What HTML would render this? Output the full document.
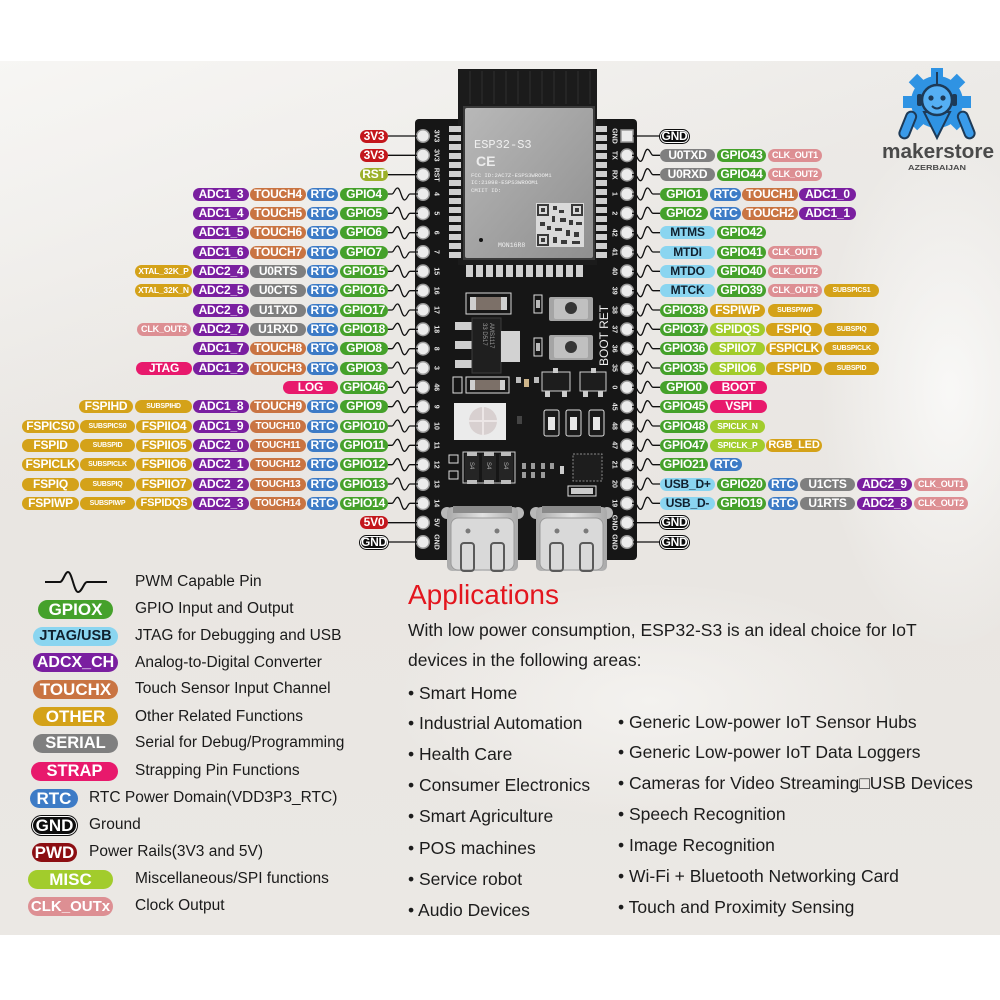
<!DOCTYPE html>
<html><head><meta charset="utf-8">
<style>
html,body{margin:0;padding:0;width:1000px;height:1000px;overflow:hidden;background:#fff}
#c{position:relative;width:1000px;height:1000px;background:#fff;overflow:hidden;font-family:"Liberation Sans",Arial,sans-serif}
.bg{position:absolute;left:0;top:61px;width:1000px;height:874px;background:
radial-gradient(ellipse 130px 260px at 950px 330px,rgba(251,251,250,.85),rgba(251,251,250,0)),
linear-gradient(160deg,rgba(248,247,245,.9) 0%,rgba(248,247,245,0) 32%),
radial-gradient(ellipse 260px 120px at 650px 640px,rgba(250,249,247,.6),rgba(250,249,247,0)),
linear-gradient(#eceae7,#e9e6e2 55%,#ebe8e4)}
.rw{position:absolute;left:0;width:1000px;height:13px}
.rw b{position:absolute;top:0;height:13px;line-height:13px;border-radius:7px;color:#fff;font-weight:bold;font-size:12px;text-align:center;white-space:nowrap;overflow:hidden;letter-spacing:-0.2px}
.g{background:#45a12b}.r{background:#3d7bc6}.t{background:#c97442}.a{background:#7a1fa0}.s{background:#7f7f7f}
.o{background:#d4a219}.c{background:#dd8f93}.st{background:#e8196c}.m{background:#a2cc2c}
.j{background:#8ad5f0;color:#10202e!important}.pw{background:#c3161c}.rs{background:#9bb02a}.k{background:#0d0d0d;box-shadow:inset 0 0 0 1px #fff,0 0 0 1px #0d0d0d}
.f7{font-size:7px!important}.f8{font-size:8.5px!important}.f9{font-size:9px!important}.f10{font-size:10px!important}.f11{font-size:11px!important}
.L{position:absolute;height:19px;line-height:19px;border-radius:9.5px;font-weight:bold;color:#fff;text-align:center;font-size:16.5px;white-space:nowrap;overflow:hidden}
.lt{position:absolute;font-size:15.5px;line-height:18px;color:#1a1a1a;white-space:nowrap}
.ap{position:absolute;font-size:17.5px;line-height:20px;color:#1c1c1c;white-space:nowrap}
</style></head><body>
<div id="c">
<div class="bg"></div>

<svg width="1000" height="1000" viewBox="0 0 1000 1000" style="position:absolute;left:0;top:0" xmlns="http://www.w3.org/2000/svg">
<defs>
<linearGradient id="sh" x1="0" y1="0" x2="1" y2="1"><stop offset="0" stop-color="#b8b8b8"/><stop offset="1" stop-color="#8f8f8f"/></linearGradient>
<linearGradient id="us" x1="0" y1="0" x2="1" y2="0"><stop offset="0" stop-color="#a9a9a9"/><stop offset=".5" stop-color="#e2e2e2"/><stop offset="1" stop-color="#a9a9a9"/></linearGradient>
<path id="wl" d="M388,0H392C394,0 395,-6 397.5,-6C400.5,-6 401.5,6 404.5,6C407,6 408,0 410,0H418" fill="none" stroke="#111" stroke-width="1.3"/>
<path id="wr" d="M632,0H635C637,0 638,6 640.5,6C643.5,6 644.5,-6 647.5,-6C650,-6 651,0 653,0H660" fill="none" stroke="#111" stroke-width="1.3"/>
</defs>

<!-- PCB -->
<rect x="415" y="119" width="222" height="441" rx="4" fill="#161616"/>
<!-- module + antenna -->
<rect x="458" y="69" width="139" height="196" fill="#1b1b1b"/>
<g stroke="#2f2f2f" stroke-width="1">
<line x1="470" y1="71" x2="470" y2="104"/><line x1="482" y1="71" x2="482" y2="104"/><line x1="494" y1="71" x2="494" y2="104"/><line x1="506" y1="71" x2="506" y2="104"/><line x1="518" y1="71" x2="518" y2="104"/><line x1="530" y1="71" x2="530" y2="104"/><line x1="542" y1="71" x2="542" y2="104"/><line x1="554" y1="71" x2="554" y2="104"/><line x1="566" y1="71" x2="566" y2="104"/><line x1="578" y1="71" x2="578" y2="104"/><line x1="590" y1="71" x2="590" y2="104"/>
</g>
<rect x="463" y="106" width="132" height="154" fill="#3a3a3a"/>
<rect x="465" y="108" width="128" height="150" rx="2" fill="url(#sh)"/>
<text x="474" y="148" font-family="Liberation Mono,monospace" font-size="12" fill="#f0f0f0">ESP32-S3</text>
<text x="476" y="166" font-family="Liberation Sans,sans-serif" font-size="14" font-weight="bold" fill="#ececec">CE</text>
<g font-family="Liberation Mono,monospace" font-size="5.6" fill="#f0f0f0">
<text x="471" y="177">FCC ID:2AC7Z-ESPS3WROOM1</text>
<text x="471" y="184">IC:21098-ESPS3WROOM1</text>
<text x="471" y="192">CMIIT ID:</text>
<text x="498" y="247" font-size="6.5">MON16R8</text>
</g>
<circle cx="481" cy="240" r="2" fill="#111"/>
<!-- QR -->
<rect x="536" y="203" width="48" height="44" fill="#dadada"/>
<g fill="#3a3a3a">
<rect x="537" y="204" width="12" height="12"/><rect x="571" y="204" width="12" height="12"/><rect x="537" y="234" width="12" height="12"/>
<rect x="553" y="206" width="4" height="4"/><rect x="559" y="210" width="5" height="3"/><rect x="552" y="216" width="3" height="6"/><rect x="560" y="218" width="6" height="4"/>
<rect x="569" y="220" width="4" height="5"/><rect x="576" y="222" width="6" height="3"/><rect x="540" y="222" width="5" height="4"/><rect x="547" y="226" width="4" height="4"/>
<rect x="555" y="228" width="7" height="3"/><rect x="566" y="230" width="4" height="6"/><rect x="574" y="232" width="5" height="5"/><rect x="553" y="237" width="4" height="6"/>
<rect x="561" y="240" width="6" height="4"/><rect x="572" y="241" width="8" height="3"/>
</g>
<g fill="#dadada"><rect x="539" y="206" width="8" height="8"/><rect x="573" y="206" width="8" height="8"/><rect x="539" y="236" width="8" height="8"/></g>
<g fill="#3a3a3a"><rect x="541" y="208" width="4" height="4"/><rect x="575" y="208" width="4" height="4"/><rect x="541" y="238" width="4" height="4"/></g>

<!-- castellated pads -->
<g fill="#cfcfcf">
<rect x="449" y="126" width="12" height="6"/><rect x="449" y="135" width="12" height="6"/><rect x="449" y="144" width="12" height="6"/><rect x="449" y="153" width="12" height="6"/><rect x="449" y="162" width="12" height="6"/><rect x="449" y="171" width="12" height="6"/><rect x="449" y="180" width="12" height="6"/><rect x="449" y="189" width="12" height="6"/><rect x="449" y="198" width="12" height="6"/><rect x="449" y="207" width="12" height="6"/><rect x="449" y="216" width="12" height="6"/><rect x="449" y="225" width="12" height="6"/><rect x="449" y="234" width="12" height="6"/><rect x="449" y="243" width="12" height="6"/><rect x="449" y="252" width="12" height="6"/>
<rect x="596" y="126" width="11" height="6"/><rect x="596" y="135" width="11" height="6"/><rect x="596" y="144" width="11" height="6"/><rect x="596" y="153" width="11" height="6"/><rect x="596" y="162" width="11" height="6"/><rect x="596" y="171" width="11" height="6"/><rect x="596" y="180" width="11" height="6"/><rect x="596" y="189" width="11" height="6"/><rect x="596" y="198" width="11" height="6"/><rect x="596" y="207" width="11" height="6"/><rect x="596" y="216" width="11" height="6"/><rect x="596" y="225" width="11" height="6"/><rect x="596" y="234" width="11" height="6"/><rect x="596" y="243" width="11" height="6"/><rect x="596" y="252" width="11" height="6"/>
<rect x="466" y="265" width="7" height="12"/><rect x="476" y="265" width="7" height="12"/><rect x="486" y="265" width="7" height="12"/><rect x="496" y="265" width="7" height="12"/><rect x="506" y="265" width="7" height="12"/><rect x="516" y="265" width="7" height="12"/><rect x="526" y="265" width="7" height="12"/><rect x="536" y="265" width="7" height="12"/><rect x="546" y="265" width="7" height="12"/><rect x="556" y="265" width="7" height="12"/><rect x="566" y="265" width="7" height="12"/><rect x="576" y="265" width="7" height="12"/>
</g>

<!-- header holes -->
<g fill="#ececec" stroke="#9a9a9a" stroke-width="1.5">
<circle cx="423" cy="136" r="6.3"/><circle cx="423" cy="155.3" r="6.3"/><circle cx="423" cy="174.7" r="6.3"/><circle cx="423" cy="194" r="6.3"/><circle cx="423" cy="213.3" r="6.3"/><circle cx="423" cy="232.7" r="6.3"/><circle cx="423" cy="252" r="6.3"/><circle cx="423" cy="271.3" r="6.3"/><circle cx="423" cy="290.7" r="6.3"/><circle cx="423" cy="310" r="6.3"/><circle cx="423" cy="329.3" r="6.3"/><circle cx="423" cy="348.7" r="6.3"/><circle cx="423" cy="368" r="6.3"/><circle cx="423" cy="387.3" r="6.3"/><circle cx="423" cy="406.7" r="6.3"/><circle cx="423" cy="426" r="6.3"/><circle cx="423" cy="445.3" r="6.3"/><circle cx="423" cy="464.7" r="6.3"/><circle cx="423" cy="484" r="6.3"/><circle cx="423" cy="503.3" r="6.3"/><circle cx="423" cy="522.7" r="6.3"/><circle cx="423" cy="542" r="6.3"/>
<rect x="621" y="130" width="12" height="12"/><circle cx="627" cy="155.3" r="6.3"/><circle cx="627" cy="174.7" r="6.3"/><circle cx="627" cy="194" r="6.3"/><circle cx="627" cy="213.3" r="6.3"/><circle cx="627" cy="232.7" r="6.3"/><circle cx="627" cy="252" r="6.3"/><circle cx="627" cy="271.3" r="6.3"/><circle cx="627" cy="290.7" r="6.3"/><circle cx="627" cy="310" r="6.3"/><circle cx="627" cy="329.3" r="6.3"/><circle cx="627" cy="348.7" r="6.3"/><circle cx="627" cy="368" r="6.3"/><circle cx="627" cy="387.3" r="6.3"/><circle cx="627" cy="406.7" r="6.3"/><circle cx="627" cy="426" r="6.3"/><circle cx="627" cy="445.3" r="6.3"/><circle cx="627" cy="464.7" r="6.3"/><circle cx="627" cy="484" r="6.3"/><circle cx="627" cy="503.3" r="6.3"/><circle cx="627" cy="522.7" r="6.3"/><circle cx="627" cy="542" r="6.3"/>
</g>

<!-- header labels -->
<g font-family="Liberation Sans,sans-serif" font-size="7" font-weight="bold" fill="#e8e8e8" text-anchor="middle">
<text dy="2.5" transform="translate(437,136) rotate(90)">3V3</text>
<text dy="2.5" transform="translate(437,155.3) rotate(90)">3V3</text>
<text dy="2.5" transform="translate(437,174.7) rotate(90)">RST</text>
<text dy="2.5" transform="translate(437,194) rotate(90)">4</text>
<text dy="2.5" transform="translate(437,213.3) rotate(90)">5</text>
<text dy="2.5" transform="translate(437,232.7) rotate(90)">6</text>
<text dy="2.5" transform="translate(437,252) rotate(90)">7</text>
<text dy="2.5" transform="translate(437,271.3) rotate(90)">15</text>
<text dy="2.5" transform="translate(437,290.7) rotate(90)">16</text>
<text dy="2.5" transform="translate(437,310) rotate(90)">17</text>
<text dy="2.5" transform="translate(437,329.3) rotate(90)">18</text>
<text dy="2.5" transform="translate(437,348.7) rotate(90)">8</text>
<text dy="2.5" transform="translate(437,368) rotate(90)">3</text>
<text dy="2.5" transform="translate(437,387.3) rotate(90)">46</text>
<text dy="2.5" transform="translate(437,406.7) rotate(90)">9</text>
<text dy="2.5" transform="translate(437,426) rotate(90)">10</text>
<text dy="2.5" transform="translate(437,445.3) rotate(90)">11</text>
<text dy="2.5" transform="translate(437,464.7) rotate(90)">12</text>
<text dy="2.5" transform="translate(437,484) rotate(90)">13</text>
<text dy="2.5" transform="translate(437,503.3) rotate(90)">14</text>
<text dy="2.5" transform="translate(437,522.7) rotate(90)">5V</text>
<text dy="2.5" transform="translate(437,542) rotate(90)">GND</text>
<text dy="2.5" transform="translate(615,136) rotate(90)">GND</text>
<text dy="2.5" transform="translate(615,155.3) rotate(90)">TX</text>
<text dy="2.5" transform="translate(615,174.7) rotate(90)">RX</text>
<text dy="2.5" transform="translate(615,194) rotate(90)">1</text>
<text dy="2.5" transform="translate(615,213.3) rotate(90)">2</text>
<text dy="2.5" transform="translate(615,232.7) rotate(90)">42</text>
<text dy="2.5" transform="translate(615,252) rotate(90)">41</text>
<text dy="2.5" transform="translate(615,271.3) rotate(90)">40</text>
<text dy="2.5" transform="translate(615,290.7) rotate(90)">39</text>
<text dy="2.5" transform="translate(615,310) rotate(90)">38</text>
<text dy="2.5" transform="translate(615,329.3) rotate(90)">37</text>
<text dy="2.5" transform="translate(615,348.7) rotate(90)">36</text>
<text dy="2.5" transform="translate(615,368) rotate(90)">35</text>
<text dy="2.5" transform="translate(615,387.3) rotate(90)">0</text>
<text dy="2.5" transform="translate(615,406.7) rotate(90)">45</text>
<text dy="2.5" transform="translate(615,426) rotate(90)">48</text>
<text dy="2.5" transform="translate(615,445.3) rotate(90)">47</text>
<text dy="2.5" transform="translate(615,464.7) rotate(90)">21</text>
<text dy="2.5" transform="translate(615,484) rotate(90)">20</text>
<text dy="2.5" transform="translate(615,503.3) rotate(90)">19</text>
<text dy="2.5" transform="translate(615,522.7) rotate(90)">GND</text>
<text dy="2.5" transform="translate(615,542) rotate(90)">GND</text>
</g>
<text transform="translate(608,366) rotate(-90)" font-family="Liberation Sans,sans-serif" font-size="12" fill="#eeeeee">BOOT RET</text>

<!-- components -->
<rect x="466" y="293" width="45" height="21" fill="none" stroke="#d8d8d8" stroke-width="1"/>
<rect x="470" y="297" width="37" height="13" fill="#7c7068"/>
<rect x="470" y="297" width="6" height="13" fill="#cfcfcf"/><rect x="501" y="297" width="6" height="13" fill="#cfcfcf"/>
<rect x="534" y="295" width="8" height="18" fill="none" stroke="#ddd"/><rect x="536" y="300" width="4" height="8" fill="#bbb"/>
<rect x="534" y="338" width="8" height="18" fill="none" stroke="#ddd"/><rect x="536" y="343" width="4" height="8" fill="#bbb"/>
<!-- AMS1117 -->
<rect x="455" y="322" width="18" height="8" fill="#cfcfcf"/><rect x="455" y="341" width="18" height="8" fill="#cfcfcf"/><rect x="455" y="360" width="18" height="8" fill="#cfcfcf"/>
<rect x="472" y="318" width="29" height="55" fill="#1f1f1f" stroke="#3c3c3c"/>
<rect x="501" y="331" width="19" height="31" fill="#d2d2d2"/>
<text transform="translate(490,323) rotate(90)" font-family="Liberation Sans,sans-serif" font-size="6" fill="#9a9a9a">AMS1117</text>
<text transform="translate(483,323) rotate(90)" font-family="Liberation Sans,sans-serif" font-size="6" fill="#9a9a9a">33 D517</text>
<rect x="453" y="377" width="9" height="16" fill="none" stroke="#ddd"/>
<rect x="466" y="377" width="43" height="16" fill="none" stroke="#ddd"/>
<rect x="470" y="380" width="35" height="10" fill="#7c7068"/><rect x="470" y="380" width="5" height="10" fill="#cfcfcf"/><rect x="500" y="380" width="5" height="10" fill="#cfcfcf"/>
<rect x="516" y="377" width="5" height="6" fill="#bbb"/><rect x="524" y="379" width="5" height="8" fill="#cdb58a"/><rect x="534" y="377" width="5" height="6" fill="#bbb"/>
<!-- buttons -->
<rect x="549" y="297" width="44" height="24" rx="2" fill="#a5a5a5"/><rect x="554" y="299" width="34" height="20" rx="2" fill="#c0c0c0"/><circle cx="571" cy="308" r="6" fill="#353535"/>
<rect x="549" y="335" width="44" height="25" rx="2" fill="#a5a5a5"/><rect x="554" y="337" width="34" height="21" rx="2" fill="#c0c0c0"/><circle cx="571" cy="347" r="6" fill="#353535"/>
<!-- Y1 -->
<rect x="542" y="372" width="28" height="19" fill="#1d1d1d" stroke="#cfcfcf"/><rect x="553" y="368" width="5" height="5" fill="#ccc"/><rect x="545" y="391" width="5" height="6" fill="#ccc"/><rect x="562" y="391" width="5" height="6" fill="#ccc"/>
<rect x="580" y="372" width="26" height="19" fill="#1d1d1d" stroke="#cfcfcf"/><rect x="591" y="368" width="5" height="5" fill="#ccc"/><rect x="583" y="391" width="5" height="6" fill="#ccc"/><rect x="598" y="391" width="5" height="6" fill="#ccc"/>
<!-- RGB LED -->
<rect x="454" y="403" width="52" height="37" fill="#ebebeb"/>
<circle cx="483" cy="421" r="14" fill="#d8d0d0"/>
<path d="M483,407V435M469,421H497" stroke="#ece6e6" stroke-width="2"/>
<rect x="517" y="416" width="5" height="8" fill="#444"/>
<!-- small LEDs -->
<rect x="544" y="410" width="15" height="26" rx="2" fill="#1a1a1a" stroke="#ddd"/><rect x="548" y="417" width="7" height="13" fill="#e6e6e6"/>
<rect x="566" y="410" width="15" height="26" rx="2" fill="#1a1a1a" stroke="#ddd"/><rect x="570" y="417" width="7" height="13" fill="#e6e6e6"/>
<rect x="589" y="410" width="15" height="26" rx="2" fill="#1a1a1a" stroke="#ddd"/><rect x="593" y="417" width="7" height="13" fill="#e6e6e6"/>
<!-- diodes -->
<rect x="449" y="455" width="9" height="8" fill="none" stroke="#ddd"/><rect x="449" y="471" width="9" height="8" fill="none" stroke="#ddd"/>
<rect x="463" y="452" width="52" height="31" fill="none" stroke="#cfcfcf"/>
<rect x="465" y="454" width="14" height="28" fill="#252525"/><rect x="482" y="454" width="14" height="28" fill="#252525"/><rect x="499" y="454" width="14" height="28" fill="#252525"/>
<g fill="#bdbdbd"><rect x="467" y="452" width="10" height="4"/><rect x="484" y="452" width="10" height="4"/><rect x="501" y="452" width="10" height="4"/><rect x="467" y="480" width="10" height="4"/><rect x="484" y="480" width="10" height="4"/><rect x="501" y="480" width="10" height="4"/></g>
<g font-family="Liberation Sans,sans-serif" font-size="6" fill="#aaa"><text transform="translate(470,462) rotate(90)">S4</text><text transform="translate(487,462) rotate(90)">S4</text><text transform="translate(504,462) rotate(90)">S4</text></g>
<g fill="#9a9a9a"><rect x="522" y="463" width="4" height="6"/><rect x="531" y="463" width="4" height="6"/><rect x="541" y="463" width="4" height="6"/><rect x="550" y="463" width="4" height="6"/><rect x="522" y="472" width="4" height="6"/><rect x="531" y="472" width="4" height="6"/><rect x="541" y="472" width="4" height="6"/><rect x="560" y="466" width="4" height="8" fill="#ccc"/></g>
<!-- QFN -->
<rect x="573" y="454" width="29" height="27" fill="#1d1d1d" stroke="#8a8a8a" stroke-dasharray="2,1.5"/>
<rect x="568" y="486" width="28" height="10" fill="none" stroke="#ddd"/><rect x="571" y="488" width="22" height="6" fill="#ccc"/>
<!-- USB-C left -->
<circle cx="447" cy="513" r="6" fill="#b8b8b8"/><circle cx="518" cy="513" r="6" fill="#b8b8b8"/>
<rect x="447" y="507" width="71" height="64" rx="5" fill="url(#us)"/>
<rect x="453" y="506" width="59" height="7" fill="#8a8a8a"/>
<rect x="451" y="518" width="63" height="52" rx="7" fill="#d9d9d9" stroke="#9a9a9a"/>
<circle cx="468" cy="531" r="2.5" fill="#7a7a7a"/><circle cx="497" cy="531" r="2.5" fill="#7a7a7a"/>
<rect x="461" y="543" width="13" height="28" rx="3" fill="none" stroke="#5a5a5a" stroke-width="2"/>
<rect x="491" y="543" width="13" height="28" rx="3" fill="none" stroke="#5a5a5a" stroke-width="2"/>
<!-- USB-C right -->
<circle cx="536" cy="513" r="6" fill="#b8b8b8"/><circle cx="607" cy="513" r="6" fill="#b8b8b8"/>
<rect x="536" y="507" width="71" height="64" rx="5" fill="url(#us)"/>
<rect x="542" y="506" width="59" height="7" fill="#8a8a8a"/>
<rect x="540" y="518" width="63" height="52" rx="7" fill="#d9d9d9" stroke="#9a9a9a"/>
<circle cx="557" cy="531" r="2.5" fill="#7a7a7a"/><circle cx="586" cy="531" r="2.5" fill="#7a7a7a"/>
<rect x="550" y="543" width="13" height="28" rx="3" fill="none" stroke="#5a5a5a" stroke-width="2"/>
<rect x="580" y="543" width="13" height="28" rx="3" fill="none" stroke="#5a5a5a" stroke-width="2"/>

<!-- connector lines -->
<g stroke="#111" stroke-width="1.3">
<line x1="388" y1="136" x2="417" y2="136"/><line x1="388" y1="155.3" x2="417" y2="155.3"/><line x1="388" y1="174.7" x2="417" y2="174.7"/><line x1="388" y1="522.7" x2="417" y2="522.7"/><line x1="388" y1="542" x2="417" y2="542"/>
<line x1="633" y1="136" x2="660" y2="136"/><line x1="633" y1="522.7" x2="660" y2="522.7"/><line x1="633" y1="542" x2="660" y2="542"/>
</g>
<use href="#wl" y="194"/><use href="#wl" y="213.3"/><use href="#wl" y="232.7"/><use href="#wl" y="252"/><use href="#wl" y="271.3"/><use href="#wl" y="290.7"/><use href="#wl" y="310"/><use href="#wl" y="329.3"/><use href="#wl" y="348.7"/><use href="#wl" y="368"/><use href="#wl" y="387.3"/><use href="#wl" y="406.7"/><use href="#wl" y="426"/><use href="#wl" y="445.3"/><use href="#wl" y="464.7"/><use href="#wl" y="484"/><use href="#wl" y="503.3"/>
<use href="#wr" y="155.3"/><use href="#wr" y="174.7"/><use href="#wr" y="194"/><use href="#wr" y="213.3"/><use href="#wr" y="232.7"/><use href="#wr" y="252"/><use href="#wr" y="271.3"/><use href="#wr" y="290.7"/><use href="#wr" y="310"/><use href="#wr" y="329.3"/><use href="#wr" y="348.7"/><use href="#wr" y="368"/><use href="#wr" y="387.3"/><use href="#wr" y="406.7"/><use href="#wr" y="426"/><use href="#wr" y="445.3"/><use href="#wr" y="464.7"/><use href="#wr" y="484"/><use href="#wr" y="503.3"/>

<!-- legend PWM symbol -->
<path d="M45,582H60C63,582 65,572 68,572C72,572 74,592 78,592C82,592 84,582 87,582H107" fill="none" stroke="#111" stroke-width="2"/>

<!-- logo -->
<g transform="translate(937,102)">
<circle r="26" fill="#2f93e3"/>
<g fill="#2f93e3">
<rect x="-6" y="-34" width="12" height="11"/><rect x="-6" y="-34" width="12" height="11" transform="rotate(45)"/><rect x="-6" y="-34" width="12" height="11" transform="rotate(90)"/><rect x="-6" y="-34" width="12" height="11" transform="rotate(135)"/><rect x="-6" y="-34" width="12" height="11" transform="rotate(-45)"/><rect x="-6" y="-34" width="12" height="11" transform="rotate(-90)"/><rect x="-6" y="-34" width="12" height="11" transform="rotate(-135)"/>
</g>
<path d="M-13,10 L13,10 L0,36 Z" fill="#2f93e3" stroke="#1d3a57" stroke-width="2"/>
<rect x="-5" y="0" width="10" height="28" rx="5" fill="#3a9bea" stroke="#1d3a57" stroke-width="2" transform="translate(-24,10) rotate(22)"/>
<rect x="-5" y="0" width="10" height="28" rx="5" fill="#3a9bea" stroke="#1d3a57" stroke-width="2" transform="translate(24,10) rotate(-22)"/>
<line x1="0" y1="-17" x2="0" y2="-30" stroke="#1d3a57" stroke-width="2"/>
<circle cy="-2" r="15" fill="#55aff3" stroke="#1d3a57" stroke-width="2.5"/>
<rect x="-20" y="-8" width="5" height="12" rx="2" fill="#1d3a57"/><rect x="15" y="-8" width="5" height="12" rx="2" fill="#1d3a57"/>
<circle cx="-6" cy="-4" r="2.6" fill="#1d3a57"/><circle cx="6" cy="-4" r="2.6" fill="#1d3a57"/>
<path d="M-5,4 Q0,9 5,4" stroke="#1d3a57" fill="none" stroke-width="2"/>
</g>
<text x="882" y="158" font-family="Liberation Sans,sans-serif" font-size="20" font-weight="bold" fill="#4a4a4a" textLength="112" lengthAdjust="spacingAndGlyphs">makerstore</text>
<text x="908" y="170" font-family="Liberation Sans,sans-serif" font-size="7.5" font-weight="bold" fill="#4a4a4a" textLength="58" lengthAdjust="spacingAndGlyphs">AZERBAIJAN</text>
</svg>

<!-- LEFT PIN LABELS -->
<div class="rw" style="top:129.5px"><b class="pw" style="left:360px;width:28px">3V3</b></div>
<div class="rw" style="top:148.8px"><b class="pw" style="left:360px;width:28px">3V3</b></div>
<div class="rw" style="top:168.2px"><b class="rs" style="left:360px;width:28px">RST</b></div>
<div class="rw" style="top:187.5px"><b class="a" style="left:193px;width:56px">ADC1_3</b><b class="t" style="left:250px;width:56px">TOUCH4</b><b class="r" style="left:307px;width:31px">RTC</b><b class="g" style="left:340px;width:48px">GPIO4</b></div>
<div class="rw" style="top:206.8px"><b class="a" style="left:193px;width:56px">ADC1_4</b><b class="t" style="left:250px;width:56px">TOUCH5</b><b class="r" style="left:307px;width:31px">RTC</b><b class="g" style="left:340px;width:48px">GPIO5</b></div>
<div class="rw" style="top:226.2px"><b class="a" style="left:193px;width:56px">ADC1_5</b><b class="t" style="left:250px;width:56px">TOUCH6</b><b class="r" style="left:307px;width:31px">RTC</b><b class="g" style="left:340px;width:48px">GPIO6</b></div>
<div class="rw" style="top:245.5px"><b class="a" style="left:193px;width:56px">ADC1_6</b><b class="t" style="left:250px;width:56px">TOUCH7</b><b class="r" style="left:307px;width:31px">RTC</b><b class="g" style="left:340px;width:48px">GPIO7</b></div>
<div class="rw" style="top:264.8px"><b class="o f8" style="left:135px;width:57px">XTAL_32K_P</b><b class="a" style="left:193px;width:56px">ADC2_4</b><b class="s" style="left:250px;width:56px">U0RTS</b><b class="r" style="left:307px;width:31px">RTC</b><b class="g" style="left:340px;width:48px">GPIO15</b></div>
<div class="rw" style="top:284.2px"><b class="o f8" style="left:135px;width:57px">XTAL_32K_N</b><b class="a" style="left:193px;width:56px">ADC2_5</b><b class="s" style="left:250px;width:56px">U0CTS</b><b class="r" style="left:307px;width:31px">RTC</b><b class="g" style="left:340px;width:48px">GPIO16</b></div>
<div class="rw" style="top:303.5px"><b class="a" style="left:193px;width:56px">ADC2_6</b><b class="s" style="left:250px;width:56px">U1TXD</b><b class="r" style="left:307px;width:31px">RTC</b><b class="g" style="left:340px;width:48px">GPIO17</b></div>
<div class="rw" style="top:322.8px"><b class="c f9" style="left:137px;width:54px">CLK_OUT3</b><b class="a" style="left:193px;width:56px">ADC2_7</b><b class="s" style="left:250px;width:56px">U1RXD</b><b class="r" style="left:307px;width:31px">RTC</b><b class="g" style="left:340px;width:48px">GPIO18</b></div>
<div class="rw" style="top:342.2px"><b class="a" style="left:193px;width:56px">ADC1_7</b><b class="t" style="left:250px;width:56px">TOUCH8</b><b class="r" style="left:307px;width:31px">RTC</b><b class="g" style="left:340px;width:48px">GPIO8</b></div>
<div class="rw" style="top:361.5px"><b class="st" style="left:136px;width:56px">JTAG</b><b class="a" style="left:193px;width:56px">ADC1_2</b><b class="t" style="left:250px;width:56px">TOUCH3</b><b class="r" style="left:307px;width:31px">RTC</b><b class="g" style="left:340px;width:48px">GPIO3</b></div>
<div class="rw" style="top:380.8px"><b class="st" style="left:283px;width:55px">LOG</b><b class="g" style="left:340px;width:48px">GPIO46</b></div>
<div class="rw" style="top:400.2px"><b class="o" style="left:79px;width:54px">FSPIHD</b><b class="o f7" style="left:135px;width:57px">SUBSPIHD</b><b class="a" style="left:193px;width:56px">ADC1_8</b><b class="t" style="left:250px;width:56px">TOUCH9</b><b class="r" style="left:307px;width:31px">RTC</b><b class="g" style="left:340px;width:48px">GPIO9</b></div>
<div class="rw" style="top:419.5px"><b class="o" style="left:22px;width:57px">FSPICS0</b><b class="o f7" style="left:80px;width:55px">SUBSPICS0</b><b class="o" style="left:136px;width:56px">FSPIIO4</b><b class="a" style="left:193px;width:56px">ADC1_9</b><b class="t f10" style="left:250px;width:56px">TOUCH10</b><b class="r" style="left:307px;width:31px">RTC</b><b class="g" style="left:340px;width:48px">GPIO10</b></div>
<div class="rw" style="top:438.8px"><b class="o" style="left:22px;width:57px">FSPID</b><b class="o f7" style="left:80px;width:55px">SUBSPID</b><b class="o" style="left:136px;width:56px">FSPIIO5</b><b class="a" style="left:193px;width:56px">ADC2_0</b><b class="t f10" style="left:250px;width:56px">TOUCH11</b><b class="r" style="left:307px;width:31px">RTC</b><b class="g" style="left:340px;width:48px">GPIO11</b></div>
<div class="rw" style="top:458.2px"><b class="o" style="left:22px;width:57px">FSPICLK</b><b class="o f7" style="left:80px;width:55px">SUBSPICLK</b><b class="o" style="left:136px;width:56px">FSPIIO6</b><b class="a" style="left:193px;width:56px">ADC2_1</b><b class="t f10" style="left:250px;width:56px">TOUCH12</b><b class="r" style="left:307px;width:31px">RTC</b><b class="g" style="left:340px;width:48px">GPIO12</b></div>
<div class="rw" style="top:477.5px"><b class="o" style="left:22px;width:57px">FSPIQ</b><b class="o f7" style="left:80px;width:55px">SUBSPIQ</b><b class="o" style="left:136px;width:56px">FSPIIO7</b><b class="a" style="left:193px;width:56px">ADC2_2</b><b class="t f10" style="left:250px;width:56px">TOUCH13</b><b class="r" style="left:307px;width:31px">RTC</b><b class="g" style="left:340px;width:48px">GPIO13</b></div>
<div class="rw" style="top:496.8px"><b class="o" style="left:22px;width:57px">FSPIWP</b><b class="o f7" style="left:80px;width:55px">SUBSPIWP</b><b class="o f11" style="left:136px;width:56px">FSPIDQS</b><b class="a" style="left:193px;width:56px">ADC2_3</b><b class="t f10" style="left:250px;width:56px">TOUCH14</b><b class="r" style="left:307px;width:31px">RTC</b><b class="g" style="left:340px;width:48px">GPIO14</b></div>
<div class="rw" style="top:516.2px"><b class="pw" style="left:360px;width:28px">5V0</b></div>
<div class="rw" style="top:535.5px"><b class="k" style="left:360px;width:28px">GND</b></div>

<!-- RIGHT PIN LABELS -->
<div class="rw" style="top:129.5px"><b class="k" style="left:660px;width:29px">GND</b></div>
<div class="rw" style="top:148.8px"><b class="s" style="left:660px;width:55px">U0TXD</b><b class="g" style="left:717px;width:49px">GPIO43</b><b class="c f9" style="left:768px;width:54px">CLK_OUT1</b></div>
<div class="rw" style="top:168.2px"><b class="s" style="left:660px;width:55px">U0RXD</b><b class="g" style="left:717px;width:49px">GPIO44</b><b class="c f9" style="left:768px;width:54px">CLK_OUT2</b></div>
<div class="rw" style="top:187.5px"><b class="g" style="left:660px;width:48px">GPIO1</b><b class="r" style="left:710px;width:31px">RTC</b><b class="t" style="left:742px;width:56px">TOUCH1</b><b class="a" style="left:799px;width:57px">ADC1_0</b></div>
<div class="rw" style="top:206.8px"><b class="g" style="left:660px;width:48px">GPIO2</b><b class="r" style="left:710px;width:31px">RTC</b><b class="t" style="left:742px;width:56px">TOUCH2</b><b class="a" style="left:799px;width:57px">ADC1_1</b></div>
<div class="rw" style="top:226.2px"><b class="j" style="left:660px;width:55px">MTMS</b><b class="g" style="left:717px;width:49px">GPIO42</b></div>
<div class="rw" style="top:245.5px"><b class="j" style="left:660px;width:55px">MTDI</b><b class="g" style="left:717px;width:49px">GPIO41</b><b class="c f9" style="left:768px;width:54px">CLK_OUT1</b></div>
<div class="rw" style="top:264.8px"><b class="j" style="left:660px;width:55px">MTDO</b><b class="g" style="left:717px;width:49px">GPIO40</b><b class="c f9" style="left:768px;width:54px">CLK_OUT2</b></div>
<div class="rw" style="top:284.2px"><b class="j" style="left:660px;width:55px">MTCK</b><b class="g" style="left:717px;width:49px">GPIO39</b><b class="c f9" style="left:768px;width:54px">CLK_OUT3</b><b class="o f7" style="left:824px;width:55px">SUBSPICS1</b></div>
<div class="rw" style="top:303.5px"><b class="g" style="left:660px;width:48px">GPIO38</b><b class="o" style="left:710px;width:55px">FSPIWP</b><b class="o f7" style="left:768px;width:54px">SUBSPIWP</b></div>
<div class="rw" style="top:322.8px"><b class="g" style="left:660px;width:48px">GPIO37</b><b class="m" style="left:710px;width:55px">SPIDQS</b><b class="o" style="left:766px;width:56px">FSPIQ</b><b class="o f7" style="left:824px;width:55px">SUBSPIQ</b></div>
<div class="rw" style="top:342.2px"><b class="g" style="left:660px;width:48px">GPIO36</b><b class="m" style="left:710px;width:55px">SPIIO7</b><b class="o" style="left:766px;width:56px">FSPICLK</b><b class="o f7" style="left:824px;width:55px">SUBSPICLK</b></div>
<div class="rw" style="top:361.5px"><b class="g" style="left:660px;width:48px">GPIO35</b><b class="m" style="left:710px;width:55px">SPIIO6</b><b class="o" style="left:766px;width:56px">FSPID</b><b class="o f7" style="left:824px;width:55px">SUBSPID</b></div>
<div class="rw" style="top:380.8px"><b class="g" style="left:660px;width:48px">GPIO0</b><b class="st" style="left:710px;width:57px">BOOT</b></div>
<div class="rw" style="top:400.2px"><b class="g" style="left:660px;width:48px">GPIO45</b><b class="st" style="left:710px;width:57px">VSPI</b></div>
<div class="rw" style="top:419.5px"><b class="g" style="left:660px;width:48px">GPIO48</b><b class="m f8" style="left:710px;width:55px">SPICLK_N</b></div>
<div class="rw" style="top:438.8px"><b class="g" style="left:660px;width:48px">GPIO47</b><b class="m f8" style="left:710px;width:55px">SPICLK_P</b><b class="o f11" style="left:766px;width:56px">RGB_LED</b></div>
<div class="rw" style="top:458.2px"><b class="g" style="left:660px;width:48px">GPIO21</b><b class="r" style="left:710px;width:32px">RTC</b></div>
<div class="rw" style="top:477.5px"><b class="j" style="left:660px;width:55px">USB_D+</b><b class="g" style="left:717px;width:49px">GPIO20</b><b class="r" style="left:768px;width:30px">RTC</b><b class="s" style="left:800px;width:55px">U1CTS</b><b class="a" style="left:857px;width:55px">ADC2_9</b><b class="c f9" style="left:914px;width:54px">CLK_OUT1</b></div>
<div class="rw" style="top:496.8px"><b class="j" style="left:660px;width:55px">USB_D-</b><b class="g" style="left:717px;width:49px">GPIO19</b><b class="r" style="left:768px;width:30px">RTC</b><b class="s" style="left:800px;width:55px">U1RTS</b><b class="a" style="left:857px;width:55px">ADC2_8</b><b class="c f9" style="left:914px;width:54px">CLK_OUT2</b></div>
<div class="rw" style="top:516.2px"><b class="k" style="left:660px;width:29px">GND</b></div>
<div class="rw" style="top:535.5px"><b class="k" style="left:660px;width:29px">GND</b></div>

<!-- LEGEND -->
<div class="L g" style="left:38px;top:599.5px;width:75px;font-size:17px">GPIOX</div>
<div class="L j" style="left:33px;top:626.5px;width:85px;font-size:14.5px">JTAG/USB</div>
<div class="L a" style="left:33px;top:652.5px;width:85px;font-size:16px">ADCX_CH</div>
<div class="L t" style="left:33px;top:679.5px;width:85px;font-size:17px">TOUCHX</div>
<div class="L o" style="left:33px;top:706.5px;width:85px;font-size:17px">OTHER</div>
<div class="L s" style="left:33px;top:733.5px;width:85px">SERIAL</div>
<div class="L st" style="left:31px;top:761.5px;width:87px">STRAP</div>
<div class="L r" style="left:30px;top:788.5px;width:48px;font-size:17px">RTC</div>
<div class="L k" style="left:32px;top:815.5px;width:45px;font-size:17px">GND</div>
<div class="L" style="left:32px;top:842.5px;width:45px;font-size:17px;background:#8c0e12">PWD</div>
<div class="L m" style="left:28px;top:869.5px;width:85px;font-size:17px">MISC</div>
<div class="L c" style="left:28px;top:896.5px;width:85px;font-size:15px">CLK_OUTx</div>

<div class="lt" style="left:135px;top:573px">PWM Capable Pin</div>
<div class="lt" style="left:135px;top:600px">GPIO Input and Output</div>
<div class="lt" style="left:135px;top:627px">JTAG for Debugging and USB</div>
<div class="lt" style="left:135px;top:654px">Analog-to-Digital Converter</div>
<div class="lt" style="left:135px;top:680px">Touch Sensor Input Channel</div>
<div class="lt" style="left:135px;top:708px">Other Related Functions</div>
<div class="lt" style="left:135px;top:734px">Serial for Debug/Programming</div>
<div class="lt" style="left:135px;top:762px">Strapping Pin Functions</div>
<div class="lt" style="left:89px;top:789px">RTC Power Domain(VDD3P3_RTC)</div>
<div class="lt" style="left:89px;top:816px">Ground</div>
<div class="lt" style="left:89px;top:843px">Power Rails(3V3 and 5V)</div>
<div class="lt" style="left:135px;top:870px">Miscellaneous/SPI functions</div>
<div class="lt" style="left:135px;top:897px">Clock Output</div>

<!-- APPLICATIONS -->
<div class="ap" style="left:408px;top:580px;font-size:28px;line-height:30px;color:#e3161e">Applications</div>
<div class="ap" style="left:408px;top:620px">With low power consumption, ESP32-S3 is an ideal choice for IoT</div>
<div class="ap" style="left:408px;top:650px">devices in the following areas:</div>
<div class="ap" style="left:408px;top:683px">• Smart Home</div>
<div class="ap" style="left:408px;top:713px">• Industrial Automation</div>
<div class="ap" style="left:408px;top:744px">• Health Care</div>
<div class="ap" style="left:408px;top:775px">• Consumer Electronics</div>
<div class="ap" style="left:408px;top:806px">• Smart Agriculture</div>
<div class="ap" style="left:408px;top:838px">• POS machines</div>
<div class="ap" style="left:408px;top:869px">• Service robot</div>
<div class="ap" style="left:408px;top:900px">• Audio Devices</div>
<div class="ap" style="left:618px;top:712px">• Generic Low-power IoT Sensor Hubs</div>
<div class="ap" style="left:618px;top:742px">• Generic Low-power IoT Data Loggers</div>
<div class="ap" style="left:618px;top:773px">• Cameras for Video Streaming□USB Devices</div>
<div class="ap" style="left:618px;top:804px">• Speech Recognition</div>
<div class="ap" style="left:618px;top:835px">• Image Recognition</div>
<div class="ap" style="left:618px;top:866px">• Wi-Fi + Bluetooth Networking Card</div>
<div class="ap" style="left:618px;top:897px">• Touch and Proximity Sensing</div>
</div>
</body></html>
